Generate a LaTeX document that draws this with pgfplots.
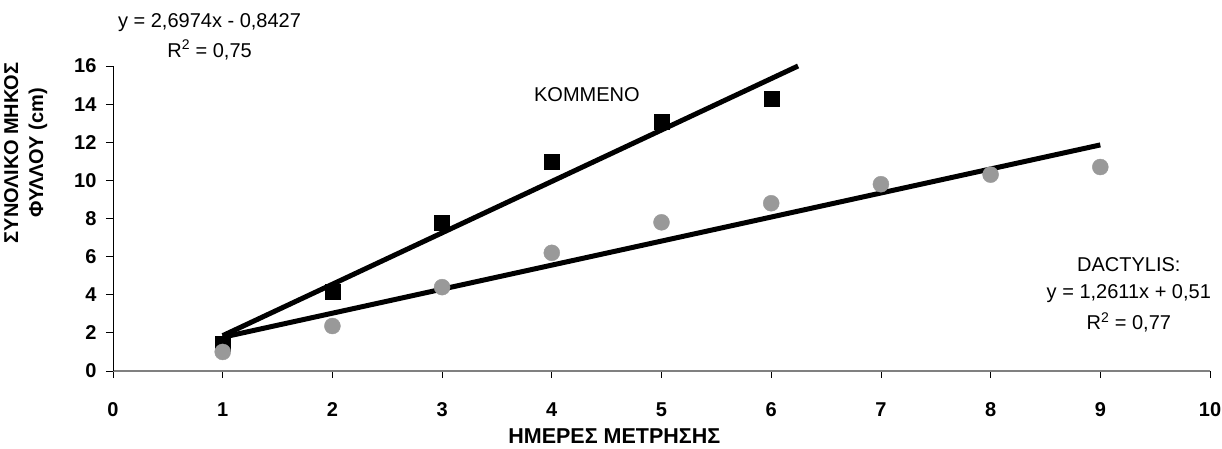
\documentclass[border=0pt]{standalone}
\usepackage{fontspec}
\setmainfont{Liberation Sans}
\usepackage{pgfplots}
\pgfplotsset{compat=1.18}
\definecolor{dotgray}{HTML}{999999}
\begin{document}
\begin{tikzpicture}[x=1pt,y=1pt]
\useasboundingbox (0,0) rectangle (1222,448);
\begin{axis}[
  at={(113pt,77pt)}, anchor=south west,
  scale only axis, width=1097pt, height=305pt,
  xmin=0, xmax=10, ymin=0, ymax=16,
  axis lines=left,
  x axis line style={-, draw=gray, line width=1.4pt},
  y axis line style={-, draw=black, line width=0.8pt},
  xtick={0,1,...,10}, ytick={0,2,...,16},
  tick align=outside, major tick length=7pt,
  x tick style={draw=black, line width=0.8pt},
  y tick style={draw=black, line width=0.8pt},
  tick label style={font=\fontsize{20}{22}\selectfont\bfseries},
  /pgf/number format/assume math mode=true,
  xticklabel style={yshift=-21pt},
  yticklabel style={xshift=-6pt},
  clip=false,
]
% KOMMENO
\addplot[only marks, mark=square*, mark size=7.5pt, mark options={fill=black, draw=black}]
  coordinates {(1,1.45) (2,4.14) (3,7.76) (4,10.97) (5,13.07) (6,14.3)};
% DACTYLIS
\addplot[only marks, mark=*, mark size=8pt, mark options={fill=dotgray, draw=dotgray}]
  coordinates {(1,1.0) (2,2.36) (3,4.4) (4,6.2) (5,7.8) (6,8.8) (7,9.8) (8,10.3) (9,10.7)};
% trend lines
\addplot[black, line width=5pt] coordinates {(1,1.8547) (6.245,16)};
\addplot[black, line width=5pt] coordinates {(1,1.7711) (9,11.8599)};
% annotations
\node[font=\fontsize{20}{22}\selectfont] at (axis cs:0.88,18.3) {y = 2,6974x - 0,8427};
\node[font=\fontsize{20}{22}\selectfont] at (axis cs:0.88,16.85) {R\textsuperscript{2} = 0,75};
\node[font=\fontsize{20}{22}\selectfont] at (axis cs:4.32,14.48) {KOMMENO};
\node[font=\fontsize{20}{22}\selectfont] at (axis cs:9.26,5.56) {DACTYLIS:};
\node[font=\fontsize{20}{22}\selectfont] at (axis cs:9.26,4.07) {y = 1,2611x + 0,51};
\node[font=\fontsize{20}{22}\selectfont] at (axis cs:9.26,2.54) {R\textsuperscript{2} = 0,77};
\node[font=\fontsize{20}{25}\selectfont\bfseries, rotate=90, align=center] at (axis cs:-0.795,11.44) {ΣΥΝΟΛΙΚΟ ΜΗΚΟΣ\\ΦΥΛΛΟΥ (cm)};
\node[font=\fontsize{21.5}{24}\selectfont\bfseries, inner sep=1pt] at (axis cs:4.57,-3.43) {ΗΜΕΡΕΣ ΜΕΤΡΗΣΗΣ};
\end{axis}
\end{tikzpicture}
\end{document}
